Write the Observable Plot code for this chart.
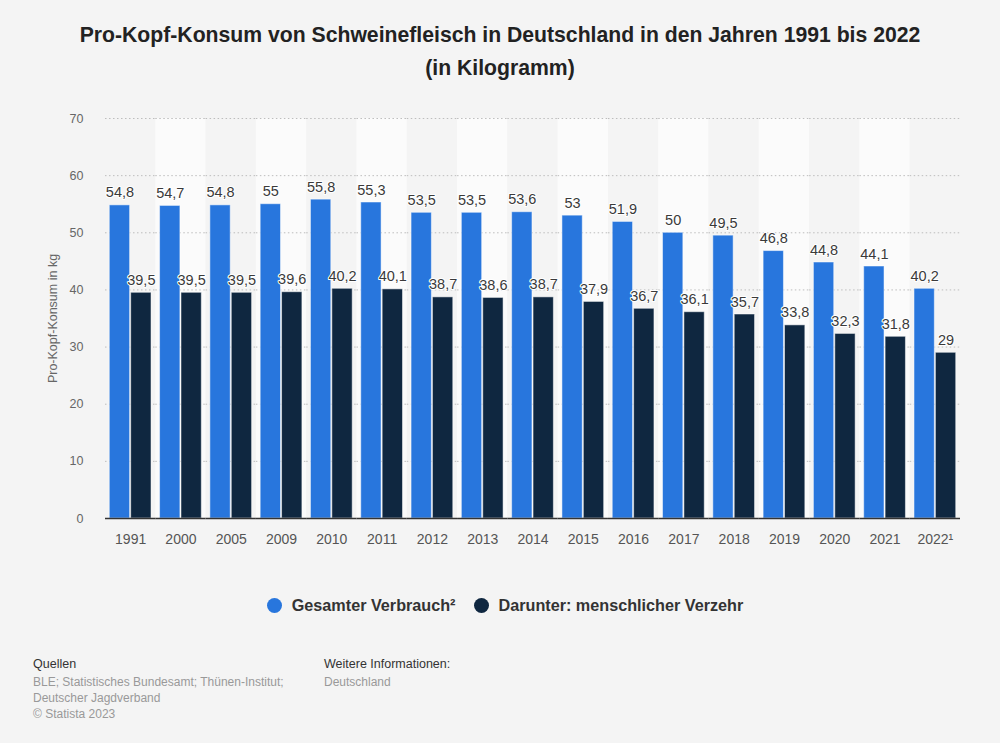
<!DOCTYPE html>
<html>
<head>
<meta charset="utf-8">
<script src="https://cdn.jsdelivr.net/npm/d3@7"></script>
<script src="https://cdn.jsdelivr.net/npm/@observablehq/plot@0.6"></script>
<style>
  html, body { margin: 0; padding: 0; background: #f4f4f4; width: 1000px; height: 743px; overflow: hidden; font-family: "Liberation Sans", Arial, sans-serif; }
  #title { position: absolute; top: 18px; left: 0; width: 1000px; text-align: center; font-weight: bold; font-size: 21.2px; line-height: 33px; color: #222; }
  #chart { position: absolute; top: 100px; left: 0; }
  #legend { position: absolute; top: 596px; left: 0; width: 1010px; display: flex; justify-content: center; align-items: center; font-weight: bold; font-size: 16.2px; color: #333; }
  .item { display: flex; align-items: center; margin: 0 9px; }
  .dot { width: 15px; height: 15px; border-radius: 50%; margin-right: 10px; }
  .foot { position: absolute; top: 656px; font-size: 12px; line-height: 16px; color: #999; }
  .foot .h { color: #333; font-size: 12.5px; margin-bottom: 2px; }
</style>
</head>
<body>
<div id="title">Pro-Kopf-Konsum von Schweinefleisch in Deutschland in den Jahren 1991 bis 2022<br>(in Kilogramm)</div>
<div id="chart"></div>
<div id="legend"></div>
<div class="foot" style="left:33px"><div class="h">Quellen</div>BLE; Statistisches Bundesamt; Thünen-Institut;<br>Deutscher Jagdverband<br>© Statista 2023</div>
<div class="foot" style="left:324px"><div class="h">Weitere Informationen:</div>Deutschland</div>
<script>
const years = ["1991","2000","2005","2009","2010","2011","2012","2013","2014","2015","2016","2017","2018","2019","2020","2021","2022¹"];
const gesamt = [54.8,54.7,54.8,55,55.8,55.3,53.5,53.5,53.6,53,51.9,50,49.5,46.8,44.8,44.1,40.2];
const verzehr = [39.5,39.5,39.5,39.6,40.2,40.1,38.7,38.6,38.7,37.9,36.7,36.1,35.7,33.8,32.3,31.8,29];
const seriesNames = ["Gesamter Verbrauch²", "Darunter: menschlicher Verzehr"];
const seriesColors = ["#2876dd", "#0f2740"];
const yTicks = [0,10,20,30,40,50,60,70];

const data = [];
years.forEach((yr, i) => {
  data.push({year: yr, series: seriesNames[0], value: gesamt[i]});
  data.push({year: yr, series: seriesNames[1], value: verzehr[i]});
});
const bands = years.map((yr, i) => ({year: yr, alt: i % 2 === 1}));
const fmt = v => String(v).replace(".", ",");

const chart = Plot.plot({
  width: 1000,
  height: 470,
  marginLeft: 105,
  marginRight: 40,
  marginTop: 18,
  marginBottom: 52,
  style: {background: "transparent", fontFamily: "'Liberation Sans', Arial, sans-serif"},
  fx: {domain: years, paddingInner: 0, paddingOuter: 0, round: false, label: null},
  x: {domain: seriesNames, paddingInner: 0.05, paddingOuter: 0.2, round: false, axis: null},
  y: {domain: [0, 70], ticks: yTicks, label: null},
  color: {domain: seriesNames, range: seriesColors},
  marks: [
    Plot.barY(bands, {fx: "year", y1: 0, y2: 70, fill: d => d.alt ? "#fbfbfb" : "#f4f4f4"}),
    Plot.gridY(yTicks.filter(t => t > 0), {stroke: "#bdbdbd", strokeOpacity: 1, strokeDasharray: "1.5,2.5", strokeWidth: 1}),
    Plot.barY(data, {fx: "year", x: "series", y: "value", fill: "series", stroke: "#ffffff", strokeOpacity: 0.5, strokeWidth: 1}),
    Plot.text(data, {fx: "year", x: "series", y: "value", text: d => fmt(d.value), lineAnchor: "bottom", dy: -8, fontSize: 14.5, fill: "#3a3a3a", stroke: "white", strokeWidth: 2, paintOrder: "stroke"}),
    Plot.ruleY([0], {stroke: "#333", strokeWidth: 1.5}),
    Plot.axisY({ticks: yTicks, tickSize: 0, tickPadding: 22, fontSize: 12.5, color: "#666", label: "Pro-Kopf-Konsum in kg", labelAnchor: "center", labelArrow: "none", labelOffset: 57}),
    Plot.axisFx({anchor: "bottom", tickSize: 0, tickPadding: 16, fontSize: 14, color: "#555", label: null})
  ]
});
document.getElementById("chart").appendChild(chart);

const legend = document.getElementById("legend");
seriesNames.forEach((name, i) => {
  const it = document.createElement("div");
  it.className = "item";
  it.innerHTML = `<span class="dot" style="background:${seriesColors[i]}"></span><span>${name}</span>`;
  legend.appendChild(it);
});
</script>
</body>
</html>
